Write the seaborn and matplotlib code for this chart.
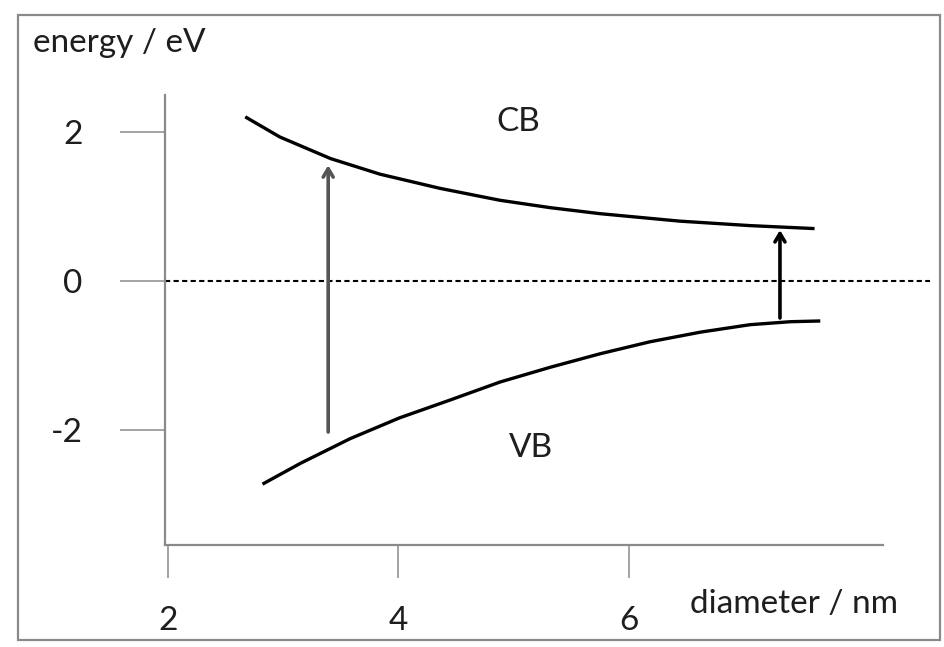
import matplotlib
matplotlib.use("Agg")
import matplotlib.pyplot as plt
import seaborn as sns
import pandas as pd
from matplotlib.patches import Rectangle

# ---- data ----
cb_diameter = [2.67, 2.97, 3.41, 3.84, 4.36, 4.88, 5.32, 5.75, 6.44, 7.05, 7.61]
cb_energy = [2.21, 1.94, 1.65, 1.44, 1.25, 1.09, 0.99, 0.91, 0.81, 0.75, 0.71]
vb_diameter = [2.82, 3.15, 3.58, 4.01, 4.45, 4.88, 5.32, 5.75, 6.18, 6.62, 7.05, 7.40, 7.66]
vb_energy = [-2.72, -2.44, -2.11, -1.83, -1.59, -1.35, -1.15, -0.97, -0.81, -0.68, -0.58, -0.54, -0.53]
arrow_diameter = [3.39, 7.31]
arrow_start = [-2.02, -0.49]
arrow_end = [1.56, 0.69]
arrow_colors = ["#555555", "#000000"]
x_ticks = [2, 4, 6]
y_ticks = [-2, 0, 2]
zero_level = 0
band_labels = ["CB", "VB"]

cb = pd.DataFrame({"diameter": cb_diameter, "energy": cb_energy})
vb = pd.DataFrame({"diameter": vb_diameter, "energy": vb_energy})

sns.set_theme(style="white")
plt.rcParams["font.family"] = ["Lato", "DejaVu Sans"]

W, H = 944, 647
fig = plt.figure(figsize=(W / 100, H / 100), dpi=100)
ax = fig.add_axes([165 / W, 1 - 545 / H, (883 - 165) / W, (545 - 95) / H])

for df in (cb, vb):
    sns.lineplot(data=df, x="diameter", y="energy", ax=ax, color="black",
                 lw=2.4, sort=False, estimator=None,
                 solid_joinstyle="round", solid_capstyle="butt")

# zero reference line (extends past the axis end)
ax.axhline(zero_level, xmin=0, xmax=(930 - 165) / (883 - 165), color="black",
           lw=1.5, ls=(0, (2.5, 1.6)), clip_on=False, zorder=1)

for xd, y0, y1, c in zip(arrow_diameter, arrow_start, arrow_end, arrow_colors):
    ax.annotate("", xy=(xd, y1), xytext=(xd, y0),
                arrowprops=dict(arrowstyle="->,head_width=0.3,head_length=0.5",
                                color=c, lw=2.6, shrinkA=0, shrinkB=0))

ax.set_xlim(1.974, 8.204)
ax.set_ylim(-3.537, 2.503)
ax.set_xticks(x_ticks)
ax.set_yticks(y_ticks)
ax.set_xticklabels([str(t) for t in x_ticks])
ax.set_yticklabels([str(t) for t in y_ticks])
ax.set_xlabel("")
ax.set_ylabel("")

for s in ["top", "right"]:
    ax.spines[s].set_visible(False)
for s in ["left", "bottom"]:
    ax.spines[s].set_color("#8a8a8a")
    ax.spines[s].set_linewidth(1.6)

ax.tick_params(axis="y", length=32.4, width=1.1, color="#8a8a8a",
               direction="out", pad=27, labelsize=24, labelcolor="#1e1e1e", left=True)
ax.tick_params(axis="x", length=23.8, width=1.1, color="#8a8a8a",
               direction="out", pad=20, labelsize=24, labelcolor="#1e1e1e", bottom=True)

# free texts
fig.text(33 / W, 1 - 52 / H, "energy / eV", fontsize=24, color="#1e1e1e",
         ha="left", va="baseline")
fig.text(690 / W, 1 - 613 / H, "diameter / nm", fontsize=24, color="#1e1e1e",
         ha="left", va="baseline")
fig.text(518 / W, 1 - 122 / H, band_labels[0], fontsize=24, color="#1e1e1e",
         ha="center", va="center")
fig.text(531 / W, 1 - 448 / H, band_labels[1], fontsize=24, color="#1e1e1e",
         ha="center", va="center")

# outer frame
fig.add_artist(Rectangle((18 / W, 1 - 640 / H), (940 - 18) / W, (640 - 15) / H,
                         transform=fig.transFigure, fill=False,
                         ec="#8a8a8a", lw=1.6))

fig.savefig("out.png", dpi=100)
